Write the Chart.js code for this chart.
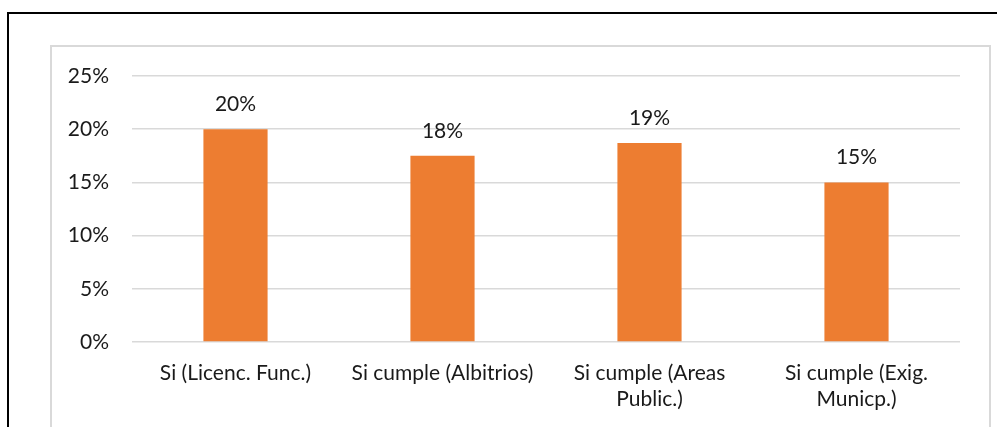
<!DOCTYPE html>
<html>
<head>
<meta charset="utf-8">
<script src="https://cdn.jsdelivr.net/npm/chart.js@4/dist/chart.umd.min.js"></script>
<style>
    html, body { margin: 0; padding: 0; background: #fff; overflow: hidden; }
    #outer { position: absolute; left: 7px; top: 12px; width: 1100px; height: 500px; border: 2px solid #000; }
    #inner { position: absolute; left: 50px; top: 45px; width: 937px; height: 500px; border: 2px solid #d9d9d9; }
    #wrap { position: absolute; left: 0; top: 0; width: 997px; height: 427px; }
</style>
</head>
<body>
<div id="outer"></div>
<div id="inner"></div>
<div id="wrap"><canvas id="chart"></canvas></div>
<script>
// Data
const categories = [
    'Si (Licenc. Func.)',
    'Si cumple (Albitrios)',
    ['Si cumple (Areas', 'Public.)'],
    ['Si cumple (Exig.', 'Municp.)']
];
const values = [20, 17.5, 18.7, 15];
const yTicks = [0, 5, 10, 15, 20, 25];

const textColor = '#1a1a1a';
const fontFamily = 'Lato, "Open Sans", sans-serif';

// Value labels above each bar
const barLabels = {
    id: 'barLabels',
    afterDatasetsDraw(chart) {
        const ctx = chart.ctx;
        const meta = chart.getDatasetMeta(0);
        ctx.save();
        ctx.font = '21px ' + fontFamily;
        ctx.fillStyle = textColor;
        ctx.textAlign = 'center';
        ctx.textBaseline = 'middle';
        meta.data.forEach((bar, i) => {
            ctx.fillText(Math.round(values[i]) + '%', bar.x, bar.y - 25);
        });
        ctx.restore();
    }
};

document.addEventListener('DOMContentLoaded', function() {
    const ctx = document.getElementById('chart').getContext('2d');
    new Chart(ctx, {
        type: 'bar',
        data: {
            labels: categories,
            datasets: [{
                data: values,
                backgroundColor: '#ED7D31',
                borderWidth: 0,
                categoryPercentage: 1,
                barPercentage: 0.31
            }]
        },
        options: {
            responsive: true,
            maintainAspectRatio: false,
            animation: false,
            layout: { padding: { top: 76, right: 37, left: 0, bottom: 0 } },
            plugins: {
                legend: { display: false },
                tooltip: { enabled: false }
            },
            scales: {
                y: {
                    min: 0,
                    max: 25,
                    afterFit(axis) { axis.width = 132; },
                    afterBuildTicks(axis) { axis.ticks = yTicks.map(v => ({ value: v })); },
                    border: { display: false },
                    grid: { color: '#d9d9d9', lineWidth: 1.5, drawTicks: false },
                    ticks: {
                        padding: 23,
                        color: textColor,
                        font: { size: 21, family: fontFamily },
                        callback: v => v + '%'
                    }
                },
                x: {
                    afterFit(axis) { axis.height = 85; },
                    border: { display: false },
                    grid: { display: false, drawTicks: false },
                    ticks: {
                        padding: 18,
                        maxRotation: 0,
                        autoSkip: false,
                        color: textColor,
                        font: { size: 21, family: fontFamily, lineHeight: 1.25 }
                    }
                }
            }
        },
        plugins: [barLabels]
    });
});
</script>
</body>
</html>
